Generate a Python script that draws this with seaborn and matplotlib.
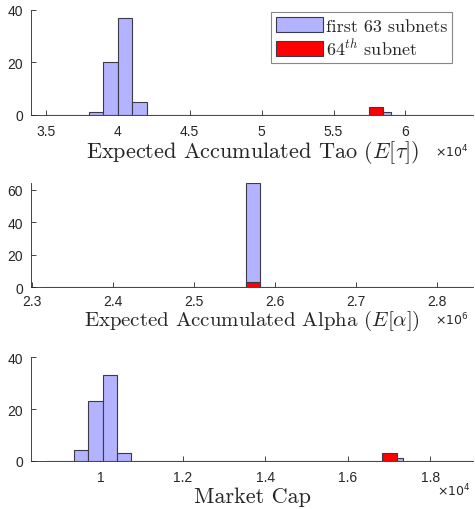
import numpy as np
import pandas as pd
import matplotlib
matplotlib.use("Agg")
import matplotlib.pyplot as plt
import seaborn as sns

# ---------------- data ----------------
# Panel 1: Expected Accumulated Tao (x 1e4)
tao_edges = [3.5 + 0.1 * i for i in range(31)]
tao_counts = [0, 0, 0, 1, 20, 37, 5, 0, 0, 0,
              0, 0, 0, 0, 0, 0, 0, 0, 0, 0,
              0, 0, 0, 1, 0, 0, 0, 0, 0, 0]
tao_red_edges = [5.745, 5.847]
tao_red_counts = [3]

# Panel 2: Expected Accumulated Alpha (x 1e6)
alpha_edges = [2.3144 + 0.0178 * i for i in range(31)]
alpha_counts = [0] * 14 + [64] + [0] * 15
alpha_red_edges = [2.3144 + 0.0178 * 14, 2.3144 + 0.0178 * 15]
alpha_red_counts = [3]

# Panel 3: Market Cap (x 1e4)
mcap_edges = [0.867 + 0.0347 * i for i in range(31)]
mcap_counts = [0, 0, 4, 23, 33, 3, 0, 0, 0, 0,
               0, 0, 0, 0, 0, 0, 0, 0, 0, 0,
               0, 0, 0, 0, 1, 0, 0, 0, 0, 0]
mcap_red_edges = [1.683, 1.720]
mcap_red_counts = [3]

tao_ticks = [3.5, 4, 4.5, 5, 5.5, 6]
tao_ticklabels = ["3.5", "4", "4.5", "5", "5.5", "6"]
alpha_ticks = [2.3, 2.4, 2.5, 2.6, 2.7, 2.8]
alpha_ticklabels = ["2.3", "2.4", "2.5", "2.6", "2.7", "2.8"]
mcap_ticks = [1.0, 1.2, 1.4, 1.6, 1.8]
mcap_ticklabels = ["1", "1.2", "1.4", "1.6", "1.8"]

labels = [r"Expected Accumulated Tao $(E[\tau])$",
          r"Expected Accumulated Alpha $(E[\alpha])$",
          "Market Cap"]
multipliers = ["4", "6", "4"]
legend_labels = ["first 63 subnets", r"64$^{th}$ subnet"]

# ---------------- style ----------------
sns.set_style("ticks")
plt.rcParams["font.family"] = ["Liberation Sans", "DejaVu Sans"]
plt.rcParams["mathtext.fontset"] = "cm"
plt.rcParams["axes.unicode_minus"] = False

BLUE = "#B3B3FF"
RED = "#FF0000"
EDGE = "#3a3a4a"
GREY = "#262626"

fig = plt.figure(figsize=(4.75, 5.1), dpi=100)
left, width = 0.0663, 0.9295
rects = [(left, 0.7731, width, 0.2059),
         (left, 0.4347, width, 0.2045),
         (left, 0.0947, width, 0.2027)]
xlims = [(3.40, 6.47), (2.299, 2.844), (0.833, 1.904)]
ylims = [(0, 40), (0, 64), (0, 40)]
yticks = [[0, 20, 40], [0, 20, 40, 60], [0, 20, 40]]
xlabel_pos = [(0.50, -0.406), (0.50, -0.365), (0.50, -0.402)]
xlabel_size = [16, 15, 16]
xpads = [7, 5, 7]
mult_pos = [(0.9887, -0.394), (0.9887, -0.350), (0.995, -0.339)]

panels = [
    (tao_edges, tao_counts, tao_red_edges, tao_red_counts, tao_ticks, tao_ticklabels),
    (alpha_edges, alpha_counts, alpha_red_edges, alpha_red_counts, alpha_ticks, alpha_ticklabels),
    (mcap_edges, mcap_counts, mcap_red_edges, mcap_red_counts, mcap_ticks, mcap_ticklabels),
]

for i, (edges, counts, redges, rcounts, ticks, ticklabels) in enumerate(panels):
    ax = fig.add_axes(rects[i])
    e = list(edges)
    centers = [(a + b) / 2 for a, b in zip(e[:-1], e[1:])]
    df = pd.DataFrame({"x": centers, "w": counts})
    sns.histplot(data=df, x="x", weights="w", bins=e, ax=ax,
                 color=BLUE, alpha=1.0, edgecolor=EDGE, linewidth=0.8,
                 label=legend_labels[0])
    re = list(redges)
    rc = [(a + b) / 2 for a, b in zip(re[:-1], re[1:])]
    dfr = pd.DataFrame({"x": rc, "w": rcounts})
    sns.histplot(data=dfr, x="x", weights="w", bins=re, ax=ax,
                 color=RED, alpha=1.0, edgecolor=EDGE, linewidth=0.8,
                 label=legend_labels[1])
    ax.set_xlim(*xlims[i])
    ax.set_ylim(*ylims[i])
    ax.set_xticks(ticks)
    ax.set_xticklabels(ticklabels)
    ax.set_yticks(yticks[i])
    ax.set_ylabel("")
    ax.set_xlabel("")
    for s in ["top", "right"]:
        ax.spines[s].set_visible(False)
    for s in ["left", "bottom"]:
        ax.spines[s].set_color(GREY)
        ax.spines[s].set_linewidth(0.6)
    ax.tick_params(direction="in", length=3.5, width=0.6, colors=GREY,
                   labelsize=10, labelcolor=GREY)
    ax.tick_params(axis="x", pad=xpads[i])
    ax.tick_params(axis="y", pad=6)
    ax.text(xlabel_pos[i][0], xlabel_pos[i][1], labels[i],
            transform=ax.transAxes, ha="center", va="baseline",
            fontsize=xlabel_size[i], family="cmr10", color=GREY)
    ax.text(mult_pos[i][0], mult_pos[i][1], r"$\times10^{%s}$" % multipliers[i],
            transform=ax.transAxes, ha="right", va="baseline",
            fontsize=9, math_fontfamily="dejavusans", color=GREY)
    if i == 0:
        leg = ax.legend(loc="upper right",
                        bbox_to_anchor=(452 / 475, 1 - 13.3 / 510),
                        bbox_transform=fig.transFigure,
                        prop={"family": "cmr10", "size": 13},
                        handlelength=2.6, handleheight=0.9,
                        handletextpad=0.2, borderpad=0.25,
                        labelspacing=0.2, borderaxespad=0,
                        fancybox=False, framealpha=1)
        leg.get_frame().set_edgecolor("#888888")
        leg.get_frame().set_linewidth(0.8)

fig.savefig("out.png", dpi=100)
